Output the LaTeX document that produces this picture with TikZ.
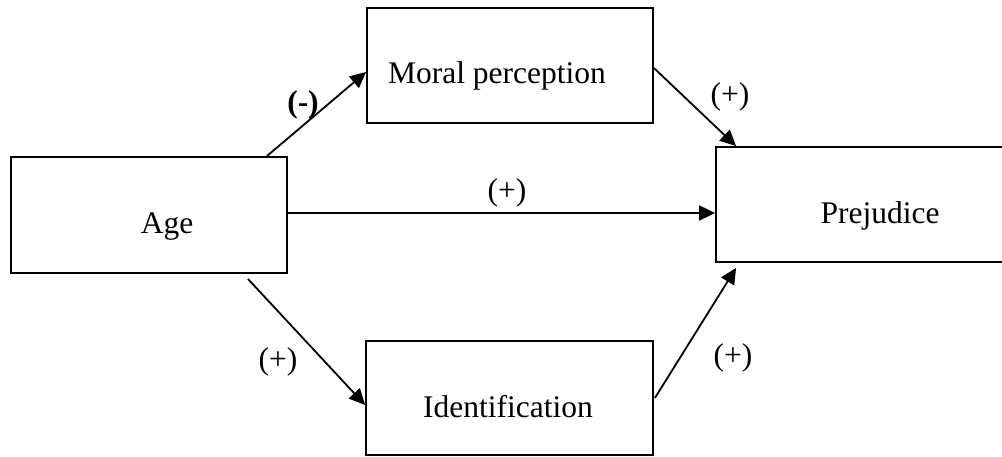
\documentclass[tikz,border=0pt]{standalone}
\usepackage{fontspec}
\setmainfont{Liberation Serif}
\usetikzlibrary{arrows.meta}
\begin{document}
\begin{tikzpicture}[x=1pt,y=1pt,
  box/.style={draw, line width=1.8pt, inner sep=0pt},
  txt/.style={font=\fontsize{31.5}{36}\selectfont, inner sep=0pt, anchor=base},
  lbl/.style={font=\fontsize{31.5}{36}\selectfont, inner sep=0pt},
  conn/.style={line width=1.8pt, -{Triangle[length=16pt,width=15pt]}}]
\useasboundingbox (0,0) rectangle (1002,457);
\clip (0,0) rectangle (1002,457);
\node[box, minimum width=276pt, minimum height=116pt] (age) at (149,242) {};
\node[box, minimum width=286pt, minimum height=115pt] (moral) at (510,391.5) {};
\node[box, minimum width=287pt, minimum height=114pt] (ident) at (509.5,59) {};
\node[box, minimum width=300pt, minimum height=115pt] (prej) at (866,252.5) {};
\node[txt] (tage) at (167,223.7) {Age};
\node[txt] (tmoral) at (497,373.7) {Moral perception};
\node[txt] (tident) at (508,39) {Identification};
\node[txt] (tprej) at (880,233.7) {Prejudice};
\draw[conn] ([xshift=-21pt]age.north east) -- ([yshift=-6.5pt]moral.west);
\draw[conn] ([yshift=2pt]age.east) -- ([yshift=2pt]age.east -| prej.west);
\draw[conn] ([xshift=-40pt,yshift=-5pt]age.south east) -- ([yshift=-7pt]ident.west);
\draw[conn] ([yshift=-2.5pt]moral.east) -- ([xshift=21pt]prej.north west);
\draw[conn] ([xshift=1pt]ident.east) -- ([xshift=21pt,yshift=-5pt]prej.south west);
\node[lbl, font=\fontsize{31.5}{36}\selectfont\bfseries] (l1) at (303,352) {(-)};
\node[lbl] (l2) at (507,264) {(+)};
\node[lbl] (l3) at (730,360) {(+)};
\node[lbl] (l4) at (278,95) {(+)};
\node[lbl] (l5) at (733,99) {(+)};
\end{tikzpicture}
\end{document}
